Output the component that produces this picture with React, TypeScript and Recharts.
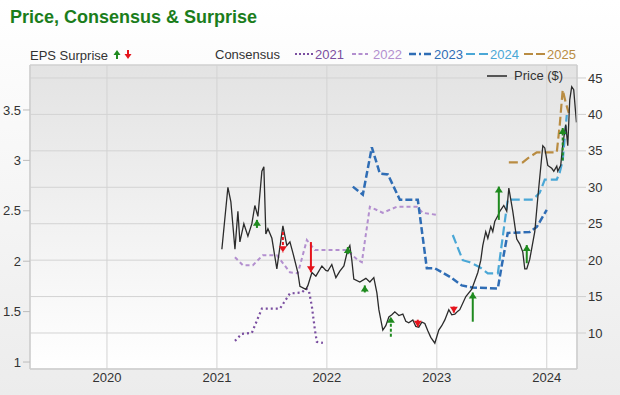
import React from 'react';
import { ComposedChart, Line, XAxis, YAxis, CartesianGrid, ReferenceArea } from 'recharts';

// ---------- data ----------
const yearTicks = [2020, 2021, 2022, 2023, 2024];
const epsTicks = [1, 1.5, 2, 2.5, 3, 3.5];
const priceTicks = [10, 15, 20, 25, 30, 35, 40, 45];
const xDomain = [2019.3, 2024.275];
const epsDomain = [0.931, 3.946];
const priceDomain = [5.06, 46.78];

const priceDates = [
  2021.045, 2021.1, 2021.127, 2021.164, 2021.191, 2021.209, 2021.245, 2021.282, 2021.318, 2021.345,
  2021.373, 2021.409, 2021.427, 2021.445, 2021.464, 2021.5, 2021.545, 2021.6, 2021.636, 2021.664,
  2021.691, 2021.736, 2021.755, 2021.809, 2021.827, 2021.864, 2021.9, 2021.955, 2021.991, 2022.009,
  2022.045, 2022.082, 2022.118, 2022.155, 2022.191, 2022.209, 2022.227, 2022.245, 2022.3, 2022.355,
  2022.391, 2022.427, 2022.455, 2022.473, 2022.509, 2022.536, 2022.564, 2022.591, 2022.618, 2022.655,
  2022.691, 2022.718, 2022.745, 2022.782, 2022.809, 2022.836, 2022.864, 2022.891, 2022.918, 2022.945,
  2022.982, 2023.018, 2023.045, 2023.073, 2023.109, 2023.136, 2023.164, 2023.191, 2023.209, 2023.264,
  2023.318, 2023.373, 2023.4, 2023.418, 2023.445, 2023.464, 2023.491, 2023.509, 2023.527, 2023.555,
  2023.573, 2023.609, 2023.636, 2023.655, 2023.691, 2023.727, 2023.755, 2023.782, 2023.8, 2023.818,
  2023.845, 2023.891, 2023.918, 2023.964, 2023.982, 2024.009, 2024.045, 2024.064, 2024.091, 2024.1,
  2024.127, 2024.145, 2024.173, 2024.191, 2024.209, 2024.227, 2024.245, 2024.27,
];
const priceValues = [
  21.5, 30.0, 28.0, 21.5, 26.7, 22.5, 25.0, 23.3, 25.0, 27.5,
  26.0, 32.2, 32.8, 23.6, 24.3, 23.0, 18.8, 24.7, 22.0, 22.5,
  21.0, 18.3, 16.4, 16.0, 16.5, 18.3, 17.8, 19.2, 18.6, 18.5,
  19.4, 17.6, 18.5, 19.2, 21.5, 22.0, 20.0, 17.4, 17.0, 17.5,
  17.0, 17.6, 15.5, 13.2, 10.4, 11.0, 12.2, 12.5, 12.9, 12.4,
  12.6, 11.6, 11.4, 11.8, 10.9, 10.8, 11.5, 11.3, 10.3, 9.4,
  8.6, 10.4, 11.0, 11.8, 13.2, 12.5, 12.6, 13.0, 13.2, 15.0,
  16.0, 18.3, 20.0, 22.0, 23.9, 23.0, 24.6, 23.9, 25.3, 26.1,
  26.7, 27.5, 26.7, 29.9, 26.7, 22.9, 22.2, 21.1, 18.8, 18.8,
  20.1, 23.9, 28.5, 35.7, 35.4, 33.0, 32.6, 32.2, 32.9, 32.2,
  33.0, 35.8, 38.6, 35.7, 42.0, 43.8, 43.4, 38.9,
];

const c2021Dates = [2021.164, 2021.227, 2021.318, 2021.409, 2021.573, 2021.664, 2021.773, 2021.809, 2021.836, 2021.864, 2021.891, 2021.909, 2021.964];
const c2021Values = [1.21, 1.28, 1.29, 1.53, 1.53, 1.68, 1.69, 1.73, 1.71, 1.55, 1.32, 1.2, 1.19];

const c2022Dates = [2021.164, 2021.236, 2021.327, 2021.418, 2021.545, 2021.664, 2021.736, 2021.818, 2021.891, 2022.182, 2022.282, 2022.318, 2022.391, 2022.509, 2022.636, 2022.818, 2022.873, 2023.0];
const c2022Values = [2.04, 1.96, 1.96, 2.06, 2.06, 1.89, 1.88, 2.21, 2.11, 2.11, 2.01, 1.99, 2.54, 2.48, 2.54, 2.54, 2.48, 2.46];

const c2023Dates = [2022.236, 2022.327, 2022.409, 2022.482, 2022.555, 2022.664, 2022.827, 2022.909, 2022.982, 2023.127, 2023.227, 2023.318, 2023.555, 2023.591, 2023.645, 2023.845, 2023.909, 2024.0];
const c2023Values = [2.74, 2.66, 3.13, 2.87, 2.86, 2.61, 2.61, 1.93, 1.93, 1.84, 1.76, 1.74, 1.73, 1.96, 2.28, 2.29, 2.34, 2.51];

const c2024Dates = [2023.145, 2023.236, 2023.3, 2023.391, 2023.464, 2023.555, 2023.645, 2023.873, 2023.936, 2023.982, 2024.091, 2024.118, 2024.145, 2024.182];
const c2024Values = [2.26, 2.01, 1.99, 1.94, 1.88, 1.88, 2.61, 2.61, 2.68, 2.81, 2.81, 2.88, 3.0, 3.45];

const c2025Dates = [2023.655, 2023.782, 2023.827, 2023.909, 2024.091, 2024.118, 2024.145, 2024.173, 2024.2];
const c2025Values = [2.98, 2.98, 3.02, 3.08, 3.08, 3.35, 3.7, 3.57, 3.47];

const surpriseDates = [2021.364, 2021.6, 2021.855, 2022.191, 2022.345, 2022.582, 2022.827, 2023.155, 2023.327, 2023.564, 2023.818, 2024.145];
const surpriseFrom = [2.33, 2.29, 2.19, 2.07, 1.69, 1.25, 1.42, 1.55, 1.4, 2.41, 1.98, 3.0];
const surpriseTo = [2.41, 2.09, 1.89, 2.14, 1.76, 1.45, 1.35, 1.49, 1.69, 2.74, 2.16, 3.32];
const surpriseDashedShaft = [false, true, false, false, false, true, false, false, false, false, false, true];

// ---------- styles ----------
const FONT = '"Liberation Sans", Arial, Helvetica, sans-serif';
const GREEN = '#1f8a1f';
const RED = '#e5141c';
const COL2021 = '#7a4ea0';
const COL2022 = '#b38fcf';
const COL2023 = '#2f6db5';
const COL2024 = '#4aa7d6';
const COL2025 = '#b98c42';

const toSeries = (dates: number[], values: number[]) => dates.map((t, i) => ({ t, v: values[i] }));

const priceData = toSeries(priceDates, priceValues);
const consensus = [
  { name: '2021', data: toSeries(c2021Dates, c2021Values), color: COL2021, dash: '2 3', width: 2.2 },
  { name: '2022', data: toSeries(c2022Dates, c2022Values), color: COL2022, dash: '4 3', width: 2 },
  { name: '2023', data: toSeries(c2023Dates, c2023Values), color: COL2023, dash: '7 3', width: 2.5 },
  { name: '2024', data: toSeries(c2024Dates, c2024Values), color: COL2024, dash: '9 4', width: 2.2 },
  { name: '2025', data: toSeries(c2025Dates, c2025Values), color: COL2025, dash: '9 4', width: 2.2 },
];

const arrows = surpriseDates.map((t, i) => ({
  up: surpriseTo[i] > surpriseFrom[i],
  dashed: surpriseDashedShaft[i],
  data: [
    { t, v: surpriseFrom[i] },
    { t, v: surpriseTo[i] },
  ],
}));

const makeHead = (up: boolean, color: string) => (props: any) => {
  const { cx, cy, index } = props;
  if (index !== 1 || cx == null || cy == null) return <g key={`h${index}`} />;
  const h = 6;
  const w = 4;
  const d = up
    ? `M${cx},${cy} L${cx - w},${cy + h} L${cx + w},${cy + h} Z`
    : `M${cx},${cy} L${cx - w},${cy - h} L${cx + w},${cy - h} Z`;
  return <path key={`h${index}`} d={d} fill={color} stroke="none" />;
};

const Overlay = () => (
  <svg
    width={620}
    height={395}
    style={{ position: 'absolute', left: 0, top: 0, pointerEvents: 'none', fontFamily: FONT }}
  >
    <text x={10} y={23} fontSize={18} fontWeight="bold" fill="#1b7d1b">
      Price, Consensus &amp; Surprise
    </text>
    <text x={30} y={60} fontSize={13} fill="#333">EPS Surprise</text>
    <line x1={117} y1={59} x2={117} y2={54} stroke={GREEN} strokeWidth={2} />
    <path d="M117,50 L113.5,55 L120.5,55 Z" fill={GREEN} />
    <line x1={128} y1={50} x2={128} y2={55} stroke={RED} strokeWidth={2} />
    <path d="M128,59 L124.5,54 L131.5,54 Z" fill={RED} />

    <text x={215} y={59} fontSize={13} fill="#333">Consensus</text>
    <line x1={295} y1={54} x2={313} y2={54} stroke={COL2021} strokeWidth={2.2} strokeDasharray="2 2" />
    <text x={315} y={59} fontSize={13} fill={COL2021}>2021</text>
    <line x1={352} y1={54} x2={368} y2={54} stroke={COL2022} strokeWidth={2} strokeDasharray="4 2.5" />
    <text x={373} y={59} fontSize={13} fill={COL2022}>2022</text>
    <line x1={409} y1={54} x2={432} y2={54} stroke={COL2023} strokeWidth={2.5} strokeDasharray="7 3 2 3" />
    <text x={434} y={59} fontSize={13} fill={COL2023}>2023</text>
    <line x1={466} y1={54} x2={488} y2={54} stroke={COL2024} strokeWidth={2.2} strokeDasharray="9 4" />
    <text x={490} y={59} fontSize={13} fill={COL2024}>2024</text>
    <line x1={524} y1={54} x2={545} y2={54} stroke={COL2025} strokeWidth={2.2} strokeDasharray="9 3" />
    <text x={547} y={59} fontSize={13} fill={COL2025}>2025</text>

    <line x1={487} y1={76} x2={507} y2={76} stroke="#555" strokeWidth={2} />
    <text x={514} y={80} fontSize={13} fill="#333">Price ($)</text>
  </svg>
);

export default function App() {
  return (
    <div
      style={{
        position: 'absolute',
        left: 0,
        top: 0,
        width: 620,
        height: 395,
        background: 'linear-gradient(#ffffff, #ececec)',
        fontFamily: FONT,
      }}
    >
      <ComposedChart width={620} height={395} margin={{ top: 65, right: 0, bottom: 0, left: 0 }}>
        <defs>
          <linearGradient id="plotBg" x1="0" y1="0" x2="0" y2="1">
            <stop offset="0%" stopColor="#e3e3e3" />
            <stop offset="100%" stopColor="#ffffff" />
          </linearGradient>
        </defs>
        <CartesianGrid yAxisId="right" stroke="#d3d3d3" fill="url(#plotBg)" fillOpacity={1} />
        <XAxis
          dataKey="t"
          type="number"
          domain={xDomain}
          ticks={yearTicks}
          allowDataOverflow
          height={26}
          tickSize={4}
          tickMargin={0}
          tickLine={false}
          axisLine={{ stroke: '#cfcfcf' }}
          tick={{ fill: '#333', fontSize: 13, fontFamily: FONT }}
        />
        <YAxis
          yAxisId="left"
          type="number"
          domain={epsDomain}
          ticks={epsTicks}
          allowDataOverflow
          width={30}
          tickSize={7}
          tickMargin={2}
          tickLine={{ stroke: '#bbb' }}
          axisLine={{ stroke: '#cfcfcf' }}
          tick={{ fill: '#333', fontSize: 13, fontFamily: FONT }}
        />
        <YAxis
          yAxisId="right"
          orientation="right"
          type="number"
          domain={priceDomain}
          ticks={priceTicks}
          allowDataOverflow
          width={43}
          tickSize={9}
          tickMargin={2}
          tickLine={{ stroke: '#cfcfcf' }}
          axisLine={{ stroke: '#cfcfcf' }}
          tick={{ fill: '#333', fontSize: 13, fontFamily: FONT }}
        />
        <ReferenceArea
          yAxisId="left"
          x1={xDomain[0]}
          x2={xDomain[1]}
          y1={epsDomain[0]}
          y2={epsDomain[1]}
          fill="none"
          stroke="#cfcfcf"
          ifOverflow="visible"
        />
        {consensus.map((c) => (
          <Line
            key={c.name}
            yAxisId="left"
            data={c.data}
            dataKey="v"
            type="linear"
            stroke={c.color}
            strokeWidth={c.width}
            strokeDasharray={c.dash}
            dot={false}
            activeDot={false}
            isAnimationActive={false}
          />
        ))}
        <Line
          yAxisId="right"
          data={priceData}
          dataKey="v"
          type="linear"
          stroke="#2b2b2b"
          strokeWidth={1.3}
          dot={false}
          activeDot={false}
          isAnimationActive={false}
        />
        {arrows.map((a, i) => (
          <Line
            key={`arrow${i}`}
            yAxisId="left"
            data={a.data}
            dataKey="v"
            type="linear"
            stroke={a.up ? GREEN : RED}
            strokeWidth={2}
            strokeDasharray={a.dashed ? '3 2' : undefined}
            dot={makeHead(a.up, a.up ? GREEN : RED)}
            activeDot={false}
            isAnimationActive={false}
          />
        ))}
      </ComposedChart>
      <Overlay />
    </div>
  );
}
